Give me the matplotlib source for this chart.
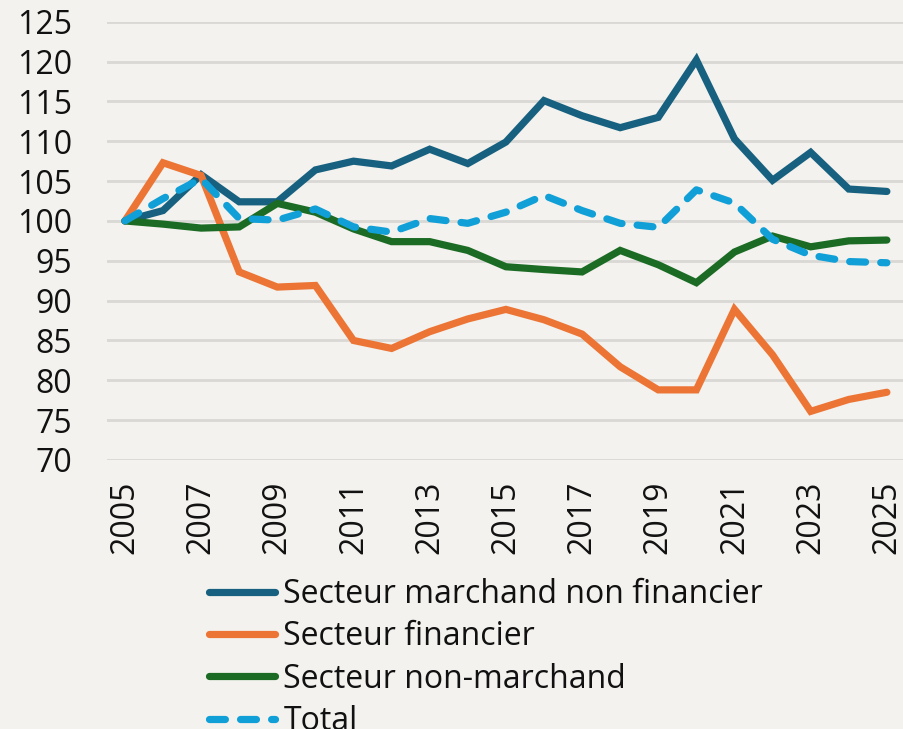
import matplotlib
matplotlib.use("Agg")
import matplotlib.pyplot as plt

years = list(range(2005, 2026))
marchand_nf = [100, 101.3, 105.8, 102.4, 102.4, 106.4, 107.5, 106.9, 109.0, 107.2, 109.9,
               115.1, 113.2, 111.7, 113.0, 120.2, 110.3, 105.1, 108.6, 104.0, 103.7]
financier = [100, 107.3, 105.7, 93.6, 91.7, 91.9, 85.0, 84.0, 86.1, 87.7, 88.9,
             87.6, 85.8, 81.7, 78.8, 78.8, 88.9, 83.2, 76.1, 77.6, 78.5]
non_marchand = [100, 99.6, 99.1, 99.25, 102.2, 101.1, 99.0, 97.4, 97.4, 96.3, 94.25,
                93.9, 93.6, 96.3, 94.5, 92.25, 96.1, 98.1, 96.75, 97.5, 97.6]
total = [100, 102.8, 105.3, 100.3, 100.1, 101.5, 99.25, 98.6, 100.3, 99.7, 101.1,
         103.2, 101.3, 99.7, 99.2, 103.9, 102.25, 97.7, 95.7, 94.9, 94.75]
labels = ["Secteur marchand non financier", "Secteur financier", "Secteur non-marchand", "Total"]
yticks = list(range(70, 126, 5))
xticks = list(range(2005, 2026, 2))

plt.rcParams['font.family'] = ['Open Sans', 'DejaVu Sans']
bg = '#f3f2ee'
W, H = 904, 729
fig = plt.figure(figsize=(W / 100, H / 100), dpi=100, facecolor=bg)
ax = fig.add_axes([107 / W, 1 - 460 / H, (904 - 107) / W, (460 - 21.7) / H], facecolor=bg)

lw = 5.2
kw = dict(linewidth=lw, solid_capstyle='round', solid_joinstyle='miter')
ax.plot(years, marchand_nf, color='#17607f', label=labels[0], **kw)
ax.plot(years, financier, color='#ec7535', label=labels[1], **kw)
ax.plot(years, non_marchand, color='#1b6b24', label=labels[2], **kw)
ax.plot(years, total, color='#109fd6', label=labels[3], linewidth=lw,
        dashes=(2.2, 2.1), dash_capstyle='round', dash_joinstyle='round')

ax.set_xlim(2004.53, 2025.45)
ax.set_ylim(70, 125)
ax.set_yticks(yticks)
ax.set_xticks(xticks)
ax.set_xticklabels([str(x) for x in xticks], rotation=90)
ax.tick_params(axis='both', length=0, labelsize=23, colors='#111111')
ax.tick_params(axis='y', pad=25)
ax.tick_params(axis='x', pad=15)
ax.grid(axis='y', color='#d9d8d5', linewidth=2)
ax.set_axisbelow(True)
for s in ax.spines.values():
    s.set_visible(False)

leg = fig.legend(loc='upper left', bbox_to_anchor=(208.6 / W, 1 - 578 / H), frameon=False,
                 fontsize=23, handlelength=2.09, handletextpad=0.25, labelspacing=0.29,
                 borderpad=0, borderaxespad=0)
for t in leg.get_texts():
    t.set_color('#111111')

fig.savefig('out.png', dpi=100, facecolor=bg)
